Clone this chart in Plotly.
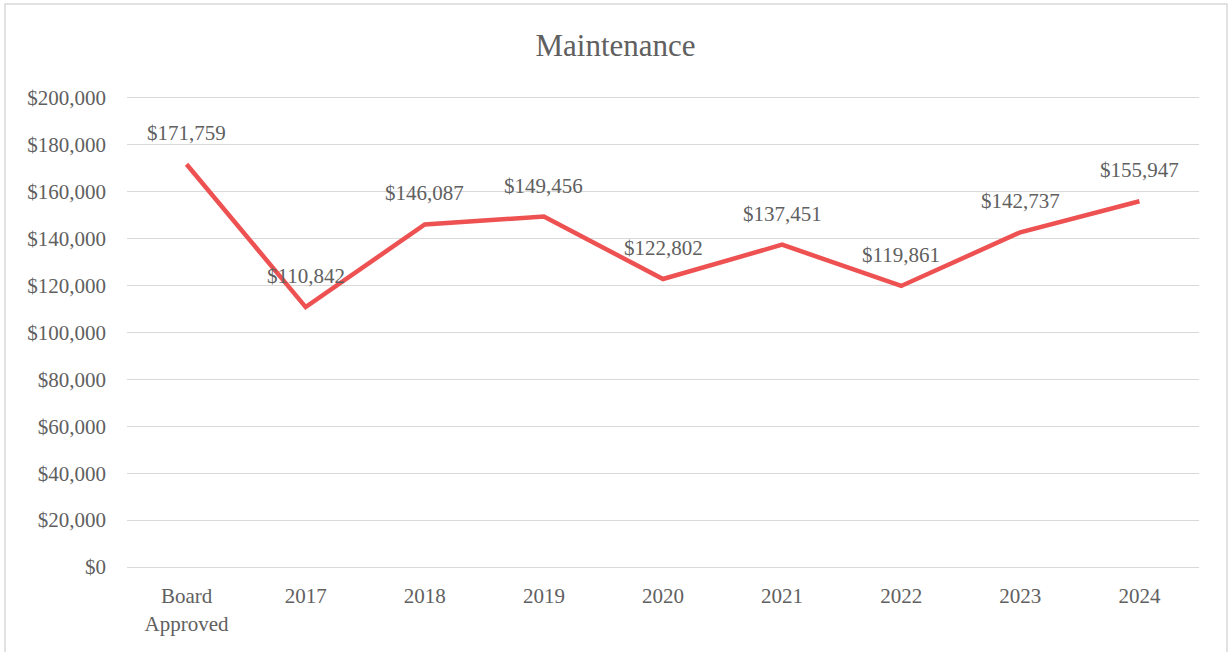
import plotly.graph_objects as go

categories = ["Board<br>Approved", "2017", "2018", "2019", "2020", "2021", "2022", "2023", "2024"]
values = [171759, 110842, 146087, 149456, 122802, 137451, 119861, 142737, 155947]
y_ticks = [0, 20000, 40000, 60000, 80000, 100000, 120000, 140000, 160000, 180000, 200000]
y_tick_labels = ["${:,}".format(v) for v in y_ticks]
labels = ["${:,}".format(v) for v in values]

FONT = "Liberation Serif"
TXT = "#606060"
GRID = "#d9d9d9"

fig = go.Figure()
fig.add_trace(go.Scatter(
    x=list(range(len(categories))), y=values, mode="lines",
    line=dict(color="#EE5151", width=4.5),
    hoverinfo="skip", showlegend=False,
))

for i, (v, t) in enumerate(zip(values, labels)):
    fig.add_annotation(x=i, y=v, text=t, showarrow=False, yshift=31,
                       yanchor="middle", xanchor="center",
                       font=dict(family=FONT, size=21, color=TXT))

fig.add_shape(type="rect", xref="paper", yref="paper",
              x0=(5 - 127) / 1072, x1=(1227 - 127) / 1072,
              y0=(567 - 700) / 469, y1=(567 - 4) / 469,
              line=dict(color=GRID, width=1.5), fillcolor="rgba(0,0,0,0)", layer="below")

fig.update_layout(
    width=1231, height=652,
    margin=dict(l=127, r=32, t=98, b=85),
    paper_bgcolor="white", plot_bgcolor="white",
    title=dict(text="Maintenance", x=0.5, xref="container", xanchor="center",
               y=1 - 45 / 652, yref="container", yanchor="middle",
               font=dict(family=FONT, size=31, color=TXT)),
    font=dict(family=FONT, size=21, color=TXT),
    xaxis=dict(range=[-0.5, 8.5], tickvals=list(range(len(categories))), ticktext=categories,
               showgrid=False, zeroline=False,
               showline=True, mirror=True, linecolor=GRID, linewidth=1.3,
               ticks="", ticklabelstandoff=10,
               tickfont=dict(family=FONT, size=21, color=TXT)),
    yaxis=dict(range=[0, 200000], tickvals=y_ticks, ticktext=y_tick_labels,
               showgrid=True, gridcolor=GRID, gridwidth=1.3,
               zeroline=False, showline=False, ticks="", ticklabelstandoff=20,
               tickfont=dict(family=FONT, size=21, color=TXT)),
)

fig.write_html("out.html", config={"displayModeBar": False},
               post_script="document.body.style.margin='0';document.body.style.overflow='hidden';")
